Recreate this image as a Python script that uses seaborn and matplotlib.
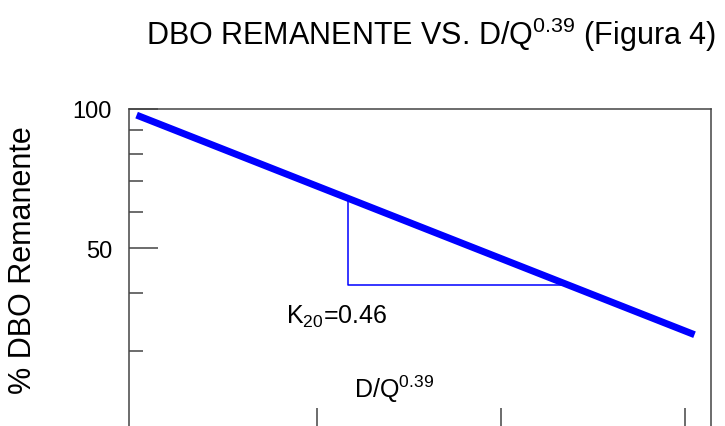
import matplotlib
matplotlib.use("Agg")
import matplotlib.pyplot as plt
import matplotlib.ticker as mticker
import seaborn as sns
import pandas as pd

# data (semi-log plot)
line_x = [0.02, 3.05]
line_y = [97.0, 32.5]
tri_x = [1.17, 1.17, 2.34]
tri_y = [64.0, 41.6, 41.6]
y_major = [50, 100]
y_minor = [30, 40, 60, 70, 80, 90]
x_ticks = [1, 2, 3]

sns.set_style("white")
plt.rcParams["font.family"] = ["Liberation Sans", "DejaVu Sans"]
plt.rcParams["mathtext.fontset"] = "custom"
plt.rcParams["mathtext.rm"] = "Liberation Sans"
plt.rcParams["mathtext.it"] = "Liberation Sans:italic"
plt.rcParams["text.color"] = "black"
plt.rcParams["axes.labelcolor"] = "black"
plt.rcParams["ytick.labelcolor"] = "black"

fig = plt.figure(figsize=(7.25, 4.27), dpi=100)
ax = fig.add_axes([0.1775, -0.0145, 0.8033, 0.7569])

df = pd.DataFrame({"x": line_x, "y": line_y})
sns.lineplot(data=df, x="x", y="y", ax=ax, color="#0000ff", linewidth=5,
             solid_capstyle="butt")
tri = pd.DataFrame({"x": tri_x, "y": tri_y})
sns.lineplot(data=tri, x="x", y="y", ax=ax, color="#0000ff", linewidth=1.1,
             sort=False, estimator=None)

ax.set_yscale("log")
ax.set_ylim(20, 100)
ax.set_xlim(-0.023, 3.14)
ax.yaxis.set_major_locator(mticker.FixedLocator(y_major))
ax.yaxis.set_major_formatter(mticker.FixedFormatter([str(v) for v in y_major]))
ax.yaxis.set_minor_locator(mticker.FixedLocator(y_minor))
ax.yaxis.set_minor_formatter(mticker.NullFormatter())
ax.xaxis.set_major_locator(mticker.FixedLocator(x_ticks))
ax.xaxis.set_major_formatter(mticker.NullFormatter())

ax.tick_params(axis="y", which="major", direction="in", length=21, width=1.1,
               color="#444444", labelsize=17, labelcolor="black", pad=12, left=True)
ax.tick_params(axis="y", which="minor", direction="in", length=10, width=1.1,
               color="#444444", left=True)
ax.tick_params(axis="x", which="major", direction="in", length=17, width=1.1,
               color="#444444", bottom=True)
for s in ax.spines.values():
    s.set_color("#444444")
    s.set_linewidth(1.1)

ax.set_xlabel("")
ax.set_ylabel("% DBO Remanente", fontsize=22, color="black")
ax.yaxis.set_label_coords(-0.155, 0.535)

ax.text(0.83, 34.5, "K$_{20}$=0.46", fontsize=18, ha="left", va="baseline")
ax.text(1.20, 23.8, "D/Q$^{0.39}$", fontsize=18, ha="left", va="baseline")

fig.text(431 / 725, 1 - 45 / 427, "DBO REMANENTE VS. D/Q$^{0.39}$ (Figura 4)",
         fontsize=22, ha="center", va="baseline")

fig.savefig("out.png", dpi=100)
